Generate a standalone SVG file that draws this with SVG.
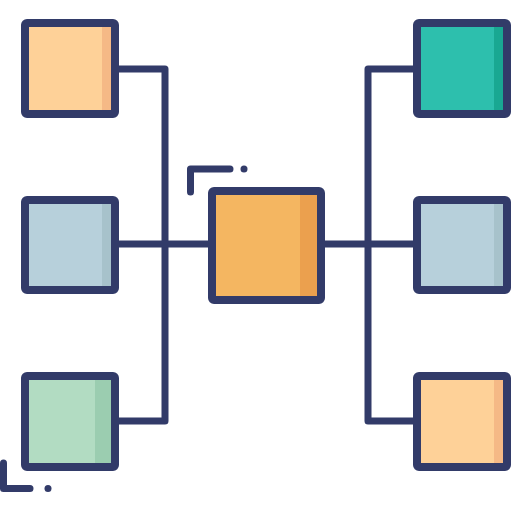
<svg xmlns="http://www.w3.org/2000/svg" width="512" height="512" viewBox="0 0 512 512">
<style>
.b{fill:none;stroke:#323b69;stroke-width:8;stroke-linejoin:round}
.c{fill:none;stroke:#323b69;stroke-width:7;stroke-linejoin:round;stroke-linecap:butt}
.k{fill:none;stroke:#323b69;stroke-width:7;stroke-linecap:round;stroke-linejoin:round}
.dot{fill:#323b69}
</style>
<g id="connectors">
<polyline class="c" points="119,69 165,69 165,421 119,421"/>
<line class="c" x1="119" y1="244" x2="208" y2="244"/>
<polyline class="c" points="413,69 368,69 368,421 413,421"/>
<line class="c" x1="325" y1="244" x2="413" y2="244"/>
</g>
<g id="bracket-top">
<polyline class="k" points="190.5,192 190.5,169 230,169"/>
<circle class="dot" cx="244" cy="169" r="3.5"/>
</g>
<g id="bracket-bottom">
<polyline class="k" points="3.5,463 3.5,488.5 30,488.5"/>
<circle class="dot" cx="48" cy="488.5" r="3.5"/>
</g>
<g id="node-top-left">
<rect x="25" y="23" width="90" height="91" fill="#fed198"/>
<rect x="102" y="23" width="13" height="91" fill="#f5b986"/>
<rect class="b" x="25" y="23" width="90" height="91" rx="2"/>
</g>
<g id="node-mid-left">
<rect x="25" y="200" width="90" height="90" fill="#b7d0db"/>
<rect x="102" y="200" width="13" height="90" fill="#a7c2cb"/>
<rect class="b" x="25" y="200" width="90" height="90" rx="2"/>
</g>
<g id="node-bottom-left">
<rect x="25" y="376" width="90" height="91" fill="#b2dcc2"/>
<rect x="95" y="376" width="20" height="91" fill="#9bcdb0"/>
<rect class="b" x="25" y="376" width="90" height="91" rx="2"/>
</g>
<g id="node-center">
<rect x="212" y="191" width="109" height="109" fill="#f4b661"/>
<rect x="300" y="191" width="21" height="109" fill="#eba04e"/>
<rect class="b" x="212" y="191" width="109" height="109" rx="2"/>
</g>
<g id="node-top-right">
<rect x="417" y="23" width="90" height="91" fill="#2dbfad"/>
<rect x="494" y="23" width="13" height="91" fill="#19a892"/>
<rect class="b" x="417" y="23" width="90" height="91" rx="2"/>
</g>
<g id="node-mid-right">
<rect x="417" y="200" width="90" height="90" fill="#b7d0db"/>
<rect x="494" y="200" width="13" height="90" fill="#a7c2cb"/>
<rect class="b" x="417" y="200" width="90" height="90" rx="2"/>
</g>
<g id="node-bottom-right">
<rect x="417" y="376" width="90" height="91" fill="#fed198"/>
<rect x="494" y="376" width="13" height="91" fill="#f5b986"/>
<rect class="b" x="417" y="376" width="90" height="91" rx="2"/>
</g>
</svg>
